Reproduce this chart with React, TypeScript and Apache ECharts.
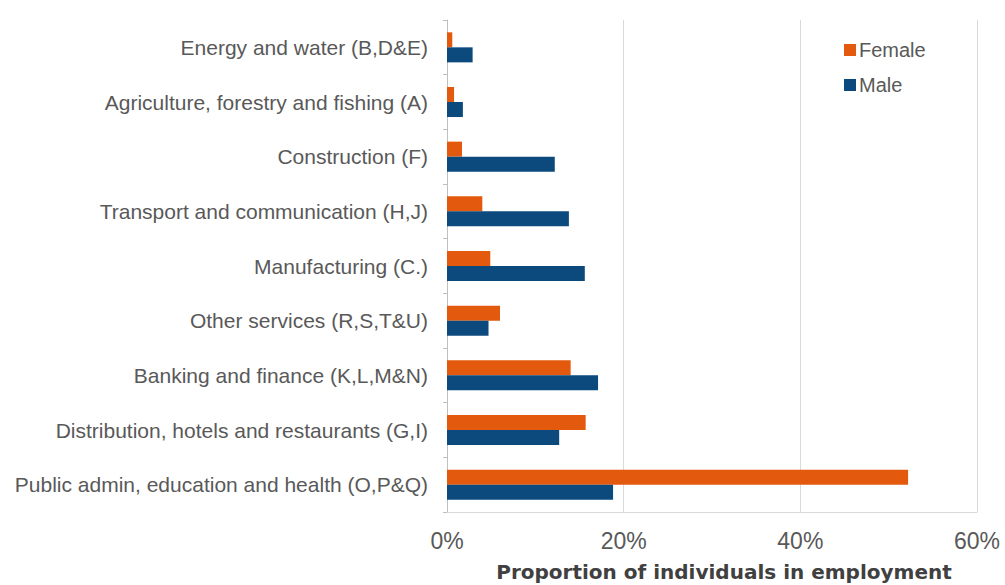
import React, { useEffect, useRef } from "react";
import * as echarts from "echarts";

const categories = [
  "Public admin, education and health (O,P&Q)",
  "Distribution, hotels and restaurants (G,I)",
  "Banking and finance (K,L,M&N)",
  "Other services (R,S,T&U)",
  "Manufacturing (C.)",
  "Transport and communication (H,J)",
  "Construction (F)",
  "Agriculture, forestry and fishing (A)",
  "Energy and water (B,D&E)",
];
const female = [52.2, 15.7, 14.0, 6.0, 4.9, 4.0, 1.7, 0.8, 0.6];
const male = [18.8, 12.7, 17.1, 4.7, 15.6, 13.8, 12.2, 1.8, 2.9];
const xTicks = [0, 20, 40, 60];

export default function App() {
  const ref = useRef<HTMLDivElement>(null);
  useEffect(() => {
    if (!ref.current) return;
    const chart = echarts.init(ref.current, null, { renderer: "svg" });
    chart.setOption({
      animation: false,
      textStyle: { fontFamily: "Liberation Sans, Arial, sans-serif" },
      legend: {
        data: ["Female", "Male"],
        orient: "vertical",
        left: 839,
        top: 35,
        itemWidth: 12,
        itemHeight: 12,
        itemGap: 15,
        icon: "rect",
        textStyle: { fontSize: 20, color: "#595959", padding: [0, 0, 0, -2] },
      },
      grid: {
        left: 447,
        right: 28,
        top: 20,
        bottom: 73,
        containLabel: false,
        outerBoundsMode: "none",
      },
      xAxis: {
        type: "value",
        min: xTicks[0],
        max: xTicks[xTicks.length - 1],
        interval: 20,
        name: "Proportion of individuals in employment",
        nameLocation: "middle",
        nameGap: 49,
        nameTextStyle: {
          fontSize: 20,
          fontWeight: "bold",
          color: "#404040",
          fontFamily: "DejaVu Sans, sans-serif",
          padding: [0, 0, 0, 24],
          lineHeight: 22,
        },
        axisLabel: { formatter: "{value}%", fontSize: 23, color: "#595959", margin: 17 },
        axisLine: { show: true, lineStyle: { color: "#d9d9d9" } },
        axisTick: { show: false },
        splitLine: { show: true, lineStyle: { color: "#d9d9d9" } },
      },
      yAxis: {
        type: "category",
        data: categories,
        axisLabel: { fontSize: 21, color: "#595959", margin: 19 },
        axisLine: { show: true, lineStyle: { color: "#bfbfbf" } },
        axisTick: { show: true, length: 4, lineStyle: { color: "#bfbfbf" } },
      },
      series: [
        {
          name: "Female",
          type: "bar",
          data: female,
          itemStyle: { color: "#e35a0f" },
          barGap: "0%",
          barCategoryGap: "45%",
        },
        {
          name: "Male",
          type: "bar",
          data: male,
          itemStyle: { color: "#0c4a7d" },
          barGap: "0%",
          barCategoryGap: "45%",
        },
      ],
    });
    return () => chart.dispose();
  }, []);
  return (
    <div
      ref={ref}
      style={{ position: "absolute", left: 0, top: 0, width: 1005, height: 585 }}
    />
  );
}
